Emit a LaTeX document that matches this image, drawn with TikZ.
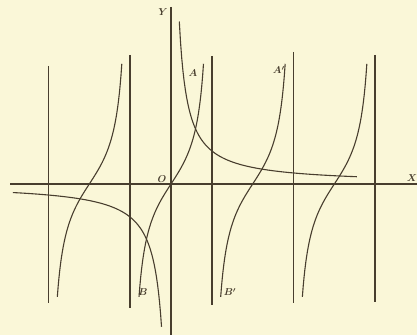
\documentclass[tikz,border=0pt]{standalone}
\usepackage{amsmath,amsfonts,amssymb}
\usepackage{tikz}
\usepackage{xcolor}
\definecolor{paper}{RGB}{250,247,216}
\definecolor{ink}{RGB}{72,62,46}

\begin{document}
\begin{tikzpicture}[x=26pt, y=40pt, every node/.style={text=ink, inner sep=1pt, font=\boldmath},
  curve/.style={ink, line width=1.1pt}, rule/.style={ink, line width=1.4pt}]
\fill[paper] (-6.577,-3.775) rectangle (9.462,4.6);
\useasboundingbox (-6.577,-3.775) rectangle (9.462,4.6);

\draw[rule] (-6.19,0) -- (9.462,0);
\draw[rule] (0,4.43) -- (0,-3.775);
\foreach \k/\top/\bot in {-3/2.95/-2.98, -1/3.23/-3.1, 1/3.2/-3.03, 3/3.3/-2.98, 5/3.23/-2.95}
  \draw[rule] ({\k*pi/2},\top) -- ({\k*pi/2},\bot);

\foreach \c in {-1,0,1,2}
  \draw[curve] plot[domain=-1.23:1.25, samples=80] ({\c*pi+\x},{tan(\x r)});

\draw[curve] plot[domain=0.32:7.15, samples=150] (\x,{1.3/\x});
\draw[curve] plot[domain=-6.08:-0.364, samples=150] (\x,{1.3/\x});

\node (y) at (-0.31,4.3) {$Y$};
\node (x) at (9.27,0.15) {$X$};
\node (o) at (-0.35,0.13) {$O$};
\node (a) at (0.85,2.78) {$A$};
\node (a1) at (4.15,2.85) {$A'$};
\node (b) at (-1.08,-2.7) {$B$};
\node (b1) at (2.27,-2.7) {$B'$};
\end{tikzpicture}
\end{document}
